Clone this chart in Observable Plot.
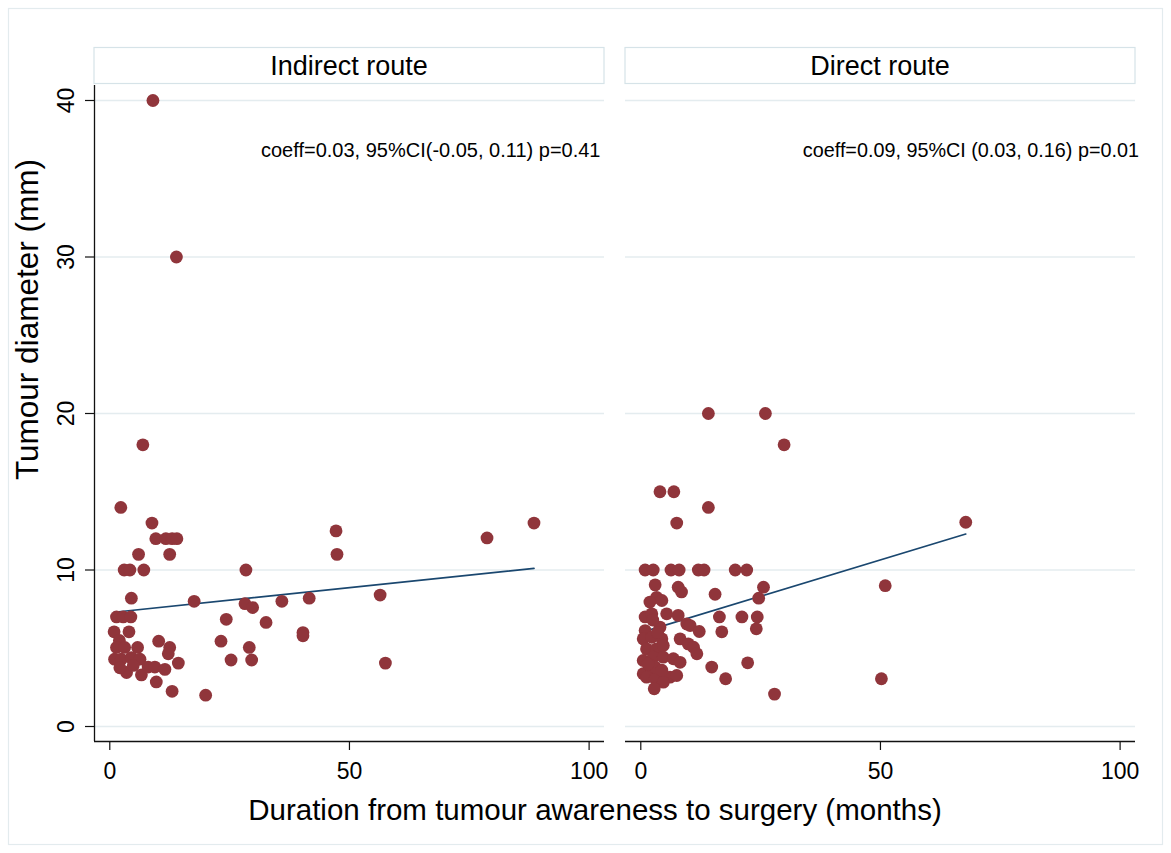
<!DOCTYPE html>
<html>
<head>
<meta charset="utf-8">
<script src="https://cdn.jsdelivr.net/npm/d3@7"></script>
<script src="https://cdn.jsdelivr.net/npm/@observablehq/plot@0.6"></script>
<style>
  html, body { margin: 0; padding: 0; background: #ffffff; }
  #chart { position: relative; width: 1171px; height: 853px; }
  svg { font-family: "Liberation Sans", Arial, sans-serif; }
</style>
</head>
<body>
<div id="chart"></div>
<script>
// ---------- data ----------
const panels = ["Indirect route", "Direct route"];

const indirectX = [9.0, 13.9, 6.9, 2.3, 8.8, 9.6, 11.7, 13.0, 14.0, 6.0, 12.5, 3.0, 4.2, 7.1, 28.4,
  4.5, 17.6, 28.2, 29.8, 35.9, 41.6, 56.4, 1.4, 2.8, 4.4, 24.3, 32.6, 0.9, 4.0, 2.0,
  10.2, 23.2, 1.4, 3.1, 5.8, 12.5, 29.1, 12.2, 40.3, 40.3, 1.0, 2.4, 4.5, 6.3, 25.3,
  29.6, 14.3, 57.5, 3.5, 6.6, 8.0, 9.4, 11.5, 2.1, 4.9, 9.7, 13.0, 20.0, 47.2, 47.4,
  78.7, 88.5];
const indirectY = [40, 30, 18, 14, 13, 12, 12, 12, 12, 11, 11, 10, 10, 10, 10,
  8.2, 8.0, 7.85, 7.6, 8.0, 8.2, 8.4, 7.0, 7.0, 7.0, 6.85, 6.65, 6.05, 6.05, 5.5,
  5.45, 5.45, 5.05, 5.05, 5.05, 5.05, 5.05, 4.65, 6.0, 5.8, 4.3, 4.3, 4.4, 4.3, 4.25,
  4.25, 4.05, 4.05, 3.45, 3.3, 3.8, 3.8, 3.65, 3.75, 3.9, 2.85, 2.25, 2.0, 12.5, 11.0,
  12.05, 13.0];

const directX = [14.1, 26.0, 29.9, 4.0, 6.9, 14.1, 7.5,
  0.9, 2.6, 6.3, 8.0, 12.0, 13.2, 19.7, 22.1,
  3.0, 7.8, 8.5, 25.6, 15.5, 24.6, 3.3, 1.9, 4.4,
  0.9, 2.3, 5.4, 7.8, 16.4, 21.1, 24.3,
  9.6, 10.3, 12.2, 16.9, 24.1, 0.9, 4.0,
  0.5, 2.3, 4.4, 8.2, 9.9, 11.0, 11.7,
  1.2, 3.3, 4.7, 0.5, 2.6, 4.7, 6.8, 8.2,
  14.8, 22.3, 0.5, 2.3, 4.4, 6.1, 7.5,
  1.2, 3.0, 4.7, 2.8, 17.7, 27.9,
  51.0, 50.2, 67.8, 3.0, 4.4, 1.5, 2.5, 3.5];
const directY = [20, 20, 18, 15, 15, 14, 13,
  10, 10, 10, 10, 10, 10, 10, 10,
  9.05, 8.9, 8.6, 8.9, 8.45, 8.2, 8.25, 7.95, 8.05,
  7.0, 7.2, 7.2, 7.1, 7.0, 7.0, 7.0,
  6.55, 6.45, 6.07, 6.05, 6.24, 6.13, 6.35,
  5.6, 5.7, 5.6, 5.6, 5.28, 5.07, 4.65,
  4.96, 4.96, 5.18, 4.22, 4.43, 4.43, 4.33, 4.1,
  3.8, 4.07, 3.37, 3.58, 3.37, 3.15, 3.26,
  3.15, 3.05, 2.83, 2.41, 3.05, 2.07,
  9.0, 3.05, 13.05, 3.8, 3.6, 4.0, 6.8, 6.0];

// fitted line end points (linear fit)
const fitIndirectX = [0.9, 88.5];
const fitIndirectY = [7.3, 10.1];
const fitDirectX = [0.5, 67.8];
const fitDirectY = [6.05, 12.3];

const annotations = ["coeff=0.03, 95%CI(-0.05, 0.11) p=0.41", "coeff=0.09, 95%CI (0.03, 0.16) p=0.01"];
const yTicks = [0, 10, 20, 30, 40];
const xTicks = [0, 50, 100];
const xTitle = "Duration from tumour awareness to surgery (months)";
const yTitle = "Tumour diameter (mm)";

// ---------- build tables ----------
const points = [
  ...indirectX.map((x, i) => ({route: panels[0], x, y: indirectY[i]})),
  ...directX.map((x, i) => ({route: panels[1], x, y: directY[i]}))
];
const fits = [
  ...fitIndirectX.map((x, i) => ({route: panels[0], x, y: fitIndirectY[i]})),
  ...fitDirectX.map((x, i) => ({route: panels[1], x, y: fitDirectY[i]}))
];
const notes = panels.map((route, i) => ({route, text: annotations[i]}));

// ---------- styling ----------
const W = 1171, H = 853;
const dotColor = "#90353b";
const lineColor = "#1a476f";
const gridColor = "#e4ecef";
const axisColor = "#111111";
const xDomain = [-3.19, 103.21];
const yDomain = [-0.958, 40.958];
const font = "'Liberation Sans', Arial, sans-serif";

const plot = Plot.plot({
  width: W,
  height: H,
  marginLeft: 94.4,
  marginRight: 35.7,
  marginTop: 85,
  marginBottom: 112,
  style: {fontFamily: font, background: "transparent", color: "#000"},
  fx: {domain: panels, paddingInner: 0.04, paddingOuter: 0, axis: null, label: null},
  x: {domain: xDomain, axis: null},
  y: {domain: yDomain, axis: null},
  marks: [
    Plot.gridY(yTicks, {stroke: gridColor, strokeOpacity: 1, strokeWidth: 1.6}),
    Plot.ruleY([yDomain[0]], {stroke: axisColor, strokeWidth: 1.3}),
    Plot.ruleX([{route: panels[0], x: xDomain[0]}], {x: "x", fx: "route", stroke: axisColor, strokeWidth: 1.3}),
    Plot.axisX({ticks: xTicks, tickSize: 9, tickPadding: 12, fontSize: 23, label: null, stroke: axisColor, strokeWidth: 1.2}),
    Plot.axisY({ticks: yTicks, tickSize: 9, tickPadding: 12, tickRotate: -90, fontSize: 23, label: null, stroke: axisColor, strokeWidth: 1.2}),
    Plot.line(fits, {x: "x", y: "y", fx: "route", z: "route", stroke: lineColor, strokeWidth: 1.7}),
    Plot.dot(points, {x: "x", y: "y", fx: "route", r: 6.4, fill: dotColor, stroke: null}),
    Plot.text([notes[0]], {fx: "route", text: "text", frameAnchor: "top-right", textAnchor: "end", lineAnchor: "middle", dx: -4, dy: 65, fontSize: 20, fill: "#000"}),
    Plot.text([notes[1]], {fx: "route", text: "text", frameAnchor: "top-right", textAnchor: "end", lineAnchor: "middle", dx: 3.5, dy: 65, fontSize: 19.8, fill: "#000"})
  ]
});

document.getElementById("chart").appendChild(plot);

// ---------- decorations: outer border, facet headers, axis titles ----------
const svg = d3.select(plot);
const fx = plot.scale("fx");

svg.insert("rect", ":first-child")
  .attr("x", 8.5).attr("y", 8.5).attr("width", 1154).attr("height", 836)
  .attr("fill", "#ffffff").attr("stroke", "#e3ebee").attr("stroke-width", 1.2);

const headers = svg.append("g");
panels.forEach(p => {
  const x0 = fx.apply(p);
  headers.append("rect")
    .attr("x", x0).attr("y", 47.5).attr("width", fx.bandwidth).attr("height", 36)
    .attr("fill", "#ffffff").attr("stroke", "#d6e3e8").attr("stroke-width", 1.2);
  headers.append("text")
    .attr("x", x0 + fx.bandwidth / 2).attr("y", 65.5).attr("dy", "0.35em")
    .attr("text-anchor", "middle").attr("font-size", 27).attr("fill", "#000")
    .text(p);
});

svg.append("text")
  .attr("x", 595).attr("y", 810).attr("dy", "0.35em")
  .attr("text-anchor", "middle").attr("font-size", 29.5).attr("fill", "#000")
  .text(xTitle);

svg.append("text")
  .attr("transform", "translate(27,480) rotate(-90)")
  .attr("dy", "0.35em")
  .attr("text-anchor", "start").attr("font-size", 31.5).attr("fill", "#000")
  .text(yTitle);
</script>
</body>
</html>
